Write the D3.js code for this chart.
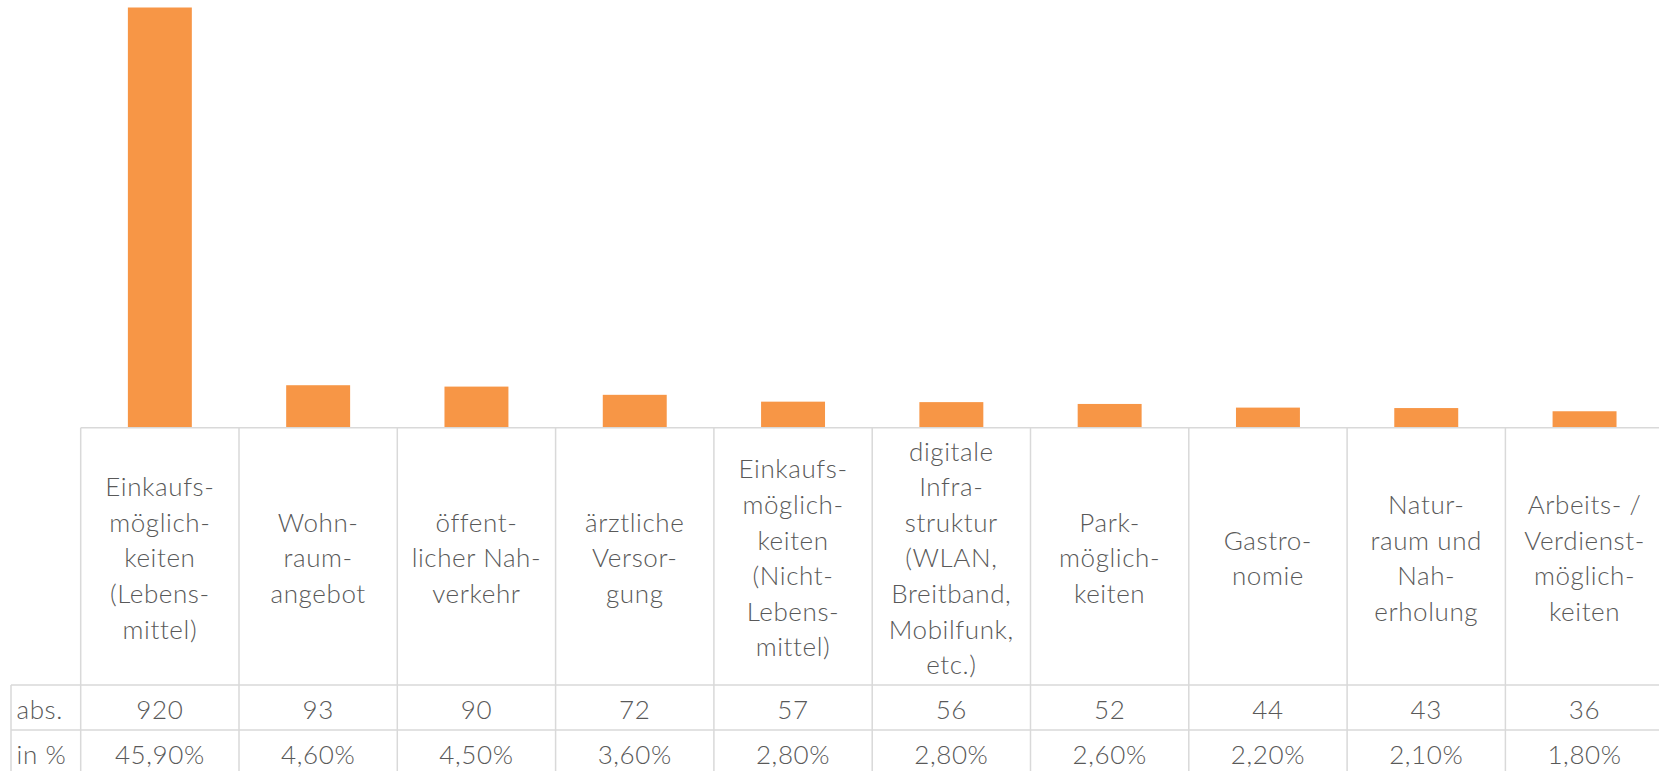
<!DOCTYPE html>
<html>
<head>
<meta charset="utf-8">
<script src="https://cdn.jsdelivr.net/npm/d3@7"></script>
<style>
  html, body { margin: 0; padding: 0; background: #ffffff; }
  svg { display: block; }
  text { font-family: "Lato", "Noto Sans", sans-serif; font-weight: 300; fill: #595959; letter-spacing: 0.6px; }
</style>
</head>
<body>
<svg id="chart" width="1659" height="771"></svg>
<script>
// Kategorien (mehrzeilig, mit Silbentrennung)
const categories = [
  ["Einkaufs-", "möglich-", "keiten", "(Lebens-", "mittel)"],
  ["Wohn-", "raum-", "angebot"],
  ["öffent-", "licher Nah-", "verkehr"],
  ["ärztliche", "Versor-", "gung"],
  ["Einkaufs-", "möglich-", "keiten", "(Nicht-", "Lebens-", "mittel)"],
  ["digitale", "Infra-", "struktur", "(WLAN,", "Breitband,", "Mobilfunk,", "etc.)"],
  ["Park-", "möglich-", "keiten"],
  ["Gastro-", "nomie"],
  ["Natur-", "raum und", "Nah-", "erholung"],
  ["Arbeits- /", "Verdienst-", "möglich-", "keiten"]
];
const absValues = [920, 93, 90, 72, 57, 56, 52, 44, 43, 36];
const pctLabels = ["45,90%", "4,60%", "4,50%", "3,60%", "2,80%", "2,80%", "2,60%", "2,20%", "2,10%", "1,80%"];
const rowLabels = ["abs.", "in %"];

const svg = d3.select("#chart");

// Layout
const tableLeft = 80.7, colStep = 158.3;
const rowLabelLeft = 11;
const baseY = 427.7;          // Oberkante der Tabelle = Nulllinie der Balken
const headerBottom = 685;
const rowH = 45;
const gridColor = "#d9d9d9";
const barColor = "#F79646";
const fontSize = 26;
const lineH = 35.6;

const idx = d3.range(categories.length);
const x = d3.scaleBand()
  .domain(idx)
  .range([tableLeft, tableLeft + colStep * categories.length])
  .paddingInner(0).paddingOuter(0);
const barW = x.bandwidth() * 0.404;

const y = d3.scaleLinear().domain([0, 920]).range([baseY, 7.5]);

// Balken
svg.append("g").selectAll("rect")
  .data(absValues)
  .join("rect")
  .attr("x", (d, i) => x(i) + (x.bandwidth() - barW) / 2)
  .attr("y", d => y(d))
  .attr("width", barW)
  .attr("height", d => y(0) - y(d))
  .attr("fill", barColor);

// Tabellenraster
const grid = svg.append("g").attr("stroke", gridColor).attr("stroke-width", 1.5).attr("fill", "none");
const right = 1659 + 10;
grid.append("line").attr("x1", tableLeft).attr("x2", right).attr("y1", baseY).attr("y2", baseY);
[headerBottom, headerBottom + rowH].forEach(yy =>
  grid.append("line").attr("x1", rowLabelLeft).attr("x2", right).attr("y1", yy).attr("y2", yy));
grid.append("line").attr("x1", rowLabelLeft).attr("x2", rowLabelLeft).attr("y1", headerBottom).attr("y2", 780);
idx.concat([categories.length]).forEach(i => {
  const xx = tableLeft + colStep * i;
  grid.append("line").attr("x1", xx).attr("x2", xx).attr("y1", baseY).attr("y2", 780);
});

// Kopfzeile mit Kategorien
const headerMid = (baseY + headerBottom) / 2 + 1;
const header = svg.append("g").attr("font-size", fontSize).attr("text-anchor", "middle");
categories.forEach((lines, i) => {
  const t = header.append("text")
    .attr("x", x(i) + x.bandwidth() / 2)
    .attr("y", headerMid - (lines.length - 1) * lineH / 2)
    .attr("dominant-baseline", "central");
  lines.forEach((ln, j) => {
    t.append("tspan")
      .attr("x", x(i) + x.bandwidth() / 2)
      .attr("dy", j === 0 ? 0 : lineH)
      .text(ln);
  });
});

// Datenzeilen
const rows = [absValues.map(String), pctLabels];
rows.forEach((vals, r) => {
  const cy = headerBottom + rowH * r + rowH / 2 + 1;
  svg.append("text")
    .attr("x", 16.5).attr("y", cy)
    .attr("font-size", fontSize)
    .attr("dominant-baseline", "central")
    .text(rowLabels[r]);
  svg.append("g").selectAll("text")
    .data(vals)
    .join("text")
    .attr("x", (d, i) => x(i) + x.bandwidth() / 2)
    .attr("y", cy)
    .attr("font-size", fontSize)
    .attr("text-anchor", "middle")
    .attr("dominant-baseline", "central")
    .text(d => d);
});
</script>
</body>
</html>
